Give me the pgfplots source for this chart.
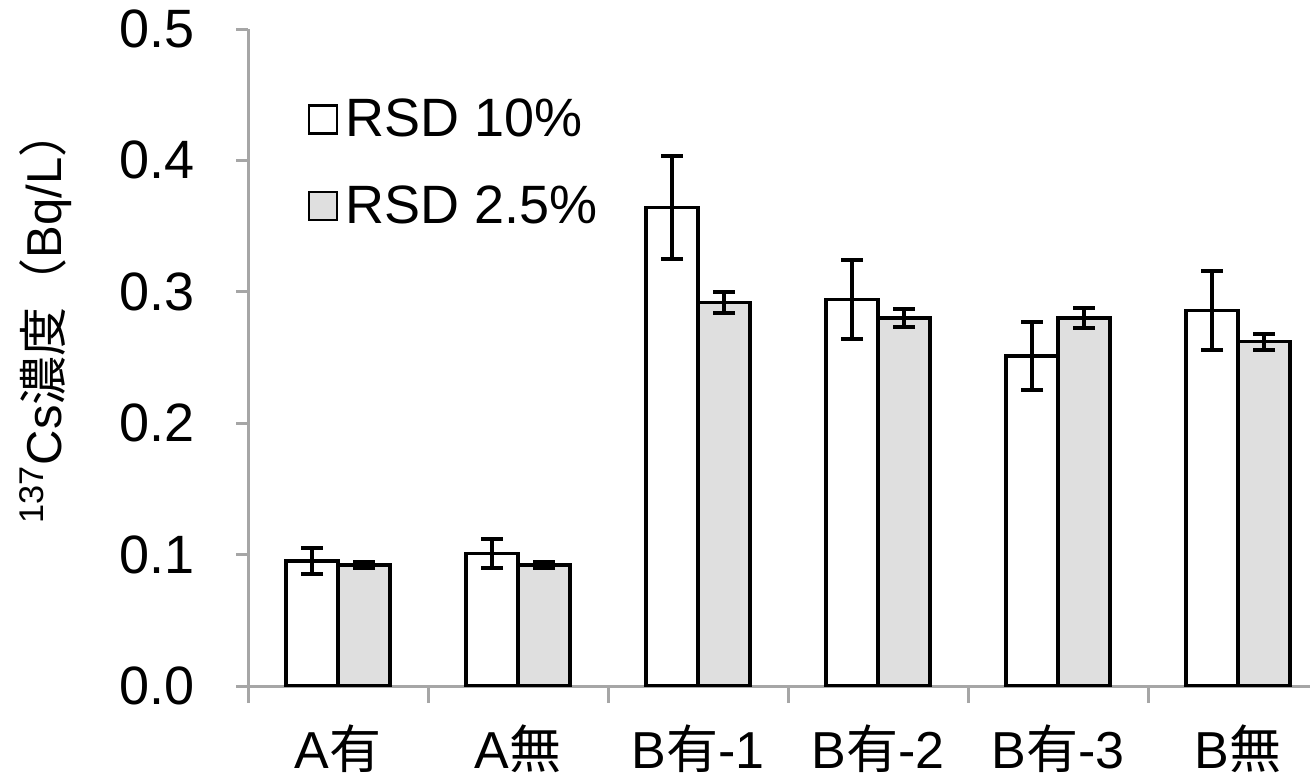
\documentclass[border=0pt]{standalone}
\usepackage{fontspec}
\setmainfont{Liberation Sans}
\newfontfamily\cjk{Noto Sans CJK JP}
\usepackage{pgfplots}
\pgfplotsset{compat=1.18}
\definecolor{axisgray}{HTML}{A6A6A6}
\definecolor{barfill}{HTML}{DFDFDF}
\begin{document}
\begin{tikzpicture}
\begin{axis}[
  at={(124pt,46pt)}, anchor=south west,
  width=531pt, height=328.5pt, scale only axis,
  xmin=-0.5, xmax=5.4, ymin=0, ymax=0.5,
  axis lines*=left,
  axis line style={draw=axisgray, line width=1.5pt},
  tick style={draw=axisgray, line width=1.5pt},
  tick align=outside,
  major tick length=6pt,
  minor tick length=8.5pt,
  ybar, ybar=0pt, bar width=26pt,
  xtick={0,1,2,3,4,5},
  xticklabels={A{\cjk 有}, A{\cjk 無}, B{\cjk 有}-1, B{\cjk 有}-2, B{\cjk 有}-3, B{\cjk 無}},
  major x tick style={draw=none},
  minor xtick={-0.5,0.5,1.5,2.5,3.5,4.5},
  ytick={0,0.1,0.2,0.3,0.4,0.5},
  /pgf/number format/fixed,
  /pgf/number format/fixed zerofill,
  /pgf/number format/precision=1,
  /pgf/number format/assume math mode=true,
  yticklabel style={font=\fontsize{27}{31}\selectfont, xshift=-17pt},
  xticklabel style={font=\fontsize{26}{30}\selectfont, yshift=-10pt},
  ylabel={\textsuperscript{137}Cs{\cjk 濃度（}Bq/L{\cjk ）}},
  ylabel style={at={(axis description cs:-0.191,0.563)}, anchor=center, font=\fontsize{24.5}{28}\selectfont},
  legend style={at={(axis cs:-0.205,0.453)}, anchor=north west, draw=none, fill=none,
    font=\fontsize{27}{31}\selectfont, row sep=19pt,
    nodes={inner xsep=4pt}},
  legend cell align=left,
  legend image code/.code={\draw[#1, line width=1.2pt] (0pt,-7pt) rectangle (14pt,7pt);},
  every axis plot/.append style={draw=black, line width=1.7pt,
    error bars/y dir=both, error bars/y explicit,
    error bars/error bar style={line width=2pt, black},
    error bars/error mark=|,
    error bars/error mark options={line width=2pt, black, mark size=5.5pt}},
]
\addplot[fill=white, draw=black] coordinates {
  (0,0.095) +- (0,0.010)
  (1,0.101) +- (0,0.011)
  (2,0.364) +- (0,0.039)
  (3,0.294) +- (0,0.030)
  (4,0.251) +- (0,0.026)
  (5,0.286) +- (0,0.030)
};
\addplot[fill=barfill, draw=black] coordinates {
  (0,0.092) +- (0,0.0025)
  (1,0.092) +- (0,0.0025)
  (2,0.292) +- (0,0.008)
  (3,0.280) +- (0,0.007)
  (4,0.280) +- (0,0.0075)
  (5,0.262) +- (0,0.006)
};
\legend{RSD 10\%, RSD 2.5\%}
\end{axis}
\pgfresetboundingbox
\useasboundingbox (0,0) rectangle (655pt,389pt);
\end{tikzpicture}
\end{document}
